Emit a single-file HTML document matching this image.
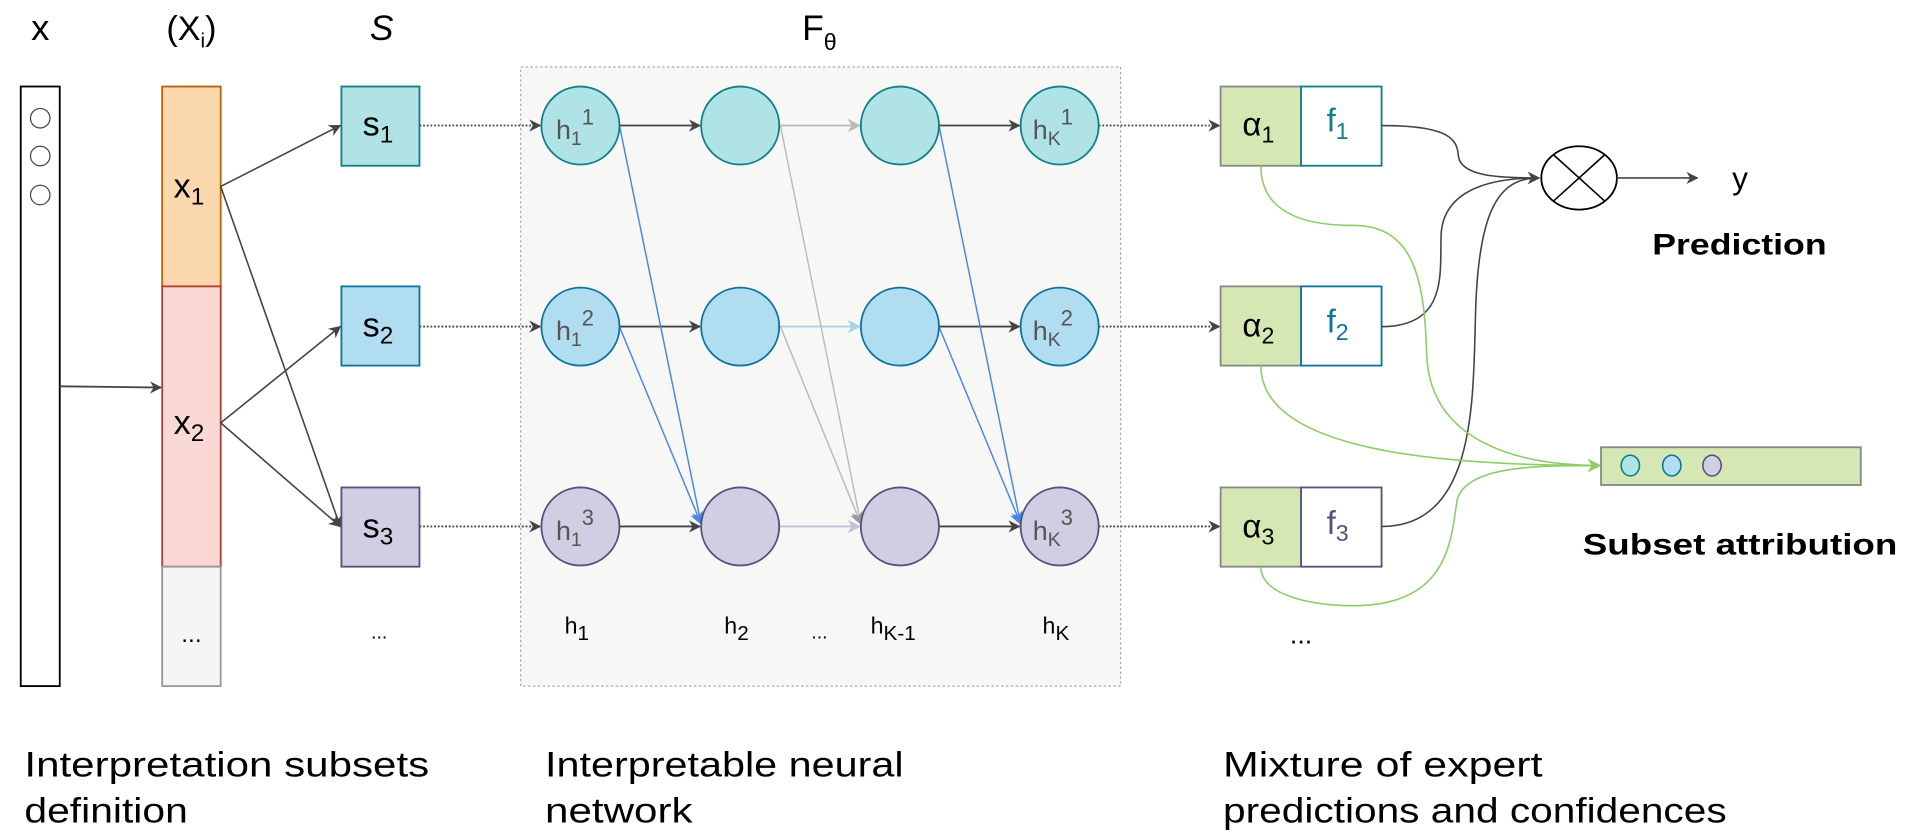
<!DOCTYPE html>
<html><head><meta charset="utf-8"><style>
html,body{margin:0;padding:0;background:#fff;width:1912px;height:836px;overflow:hidden}
svg{display:block}
text{font-family:"Liberation Sans",sans-serif}
</style></head><body>
<svg width="1912" height="836" viewBox="0 0 1568 686" preserveAspectRatio="none" xmlns="http://www.w3.org/2000/svg">
<defs>
<marker id="ad" viewBox="0 0 10 10" refX="9" refY="5" markerWidth="10" markerHeight="10" orient="auto" markerUnits="userSpaceOnUse"><path d="M0,0 L10,5 L0,10 L3,5z" fill="#444"/></marker>
<marker id="ab" viewBox="0 0 10 10" refX="9" refY="5" markerWidth="11" markerHeight="11" orient="auto" markerUnits="userSpaceOnUse"><path d="M0,0 L10,5 L0,10 L3,5z" fill="#4a86e8"/></marker>
<marker id="ag" viewBox="0 0 10 10" refX="9" refY="5" markerWidth="11" markerHeight="11" orient="auto" markerUnits="userSpaceOnUse"><path d="M0,0 L10,5 L0,10 L3,5z" fill="#999"/></marker>
<marker id="agl" viewBox="0 0 10 10" refX="9" refY="5" markerWidth="11" markerHeight="11" orient="auto" markerUnits="userSpaceOnUse"><path d="M0,0 L10,5 L0,10 L3,5z" fill="#8ccd6a"/></marker>
<marker id="al1" viewBox="0 0 10 10" refX="9" refY="5" markerWidth="11" markerHeight="11" orient="auto" markerUnits="userSpaceOnUse"><path d="M0,0 L10,5 L0,10 L3,5z" fill="#bbb"/></marker>
<marker id="al2" viewBox="0 0 10 10" refX="9" refY="5" markerWidth="11" markerHeight="11" orient="auto" markerUnits="userSpaceOnUse"><path d="M0,0 L10,5 L0,10 L3,5z" fill="#a9d2e2"/></marker>
<marker id="al3" viewBox="0 0 10 10" refX="9" refY="5" markerWidth="11" markerHeight="11" orient="auto" markerUnits="userSpaceOnUse"><path d="M0,0 L10,5 L0,10 L3,5z" fill="#c3c0dc"/></marker>
</defs>

<text x="33" y="33" font-size="30" text-anchor="middle">x</text>
<text x="157" y="33" font-size="28" text-anchor="middle">(X<tspan font-size="17" dy="6">i</tspan><tspan dy="-6">)</tspan></text>
<text x="313" y="33" font-size="29" text-anchor="middle" font-style="italic">S</text>
<text x="672" y="33" font-size="29" text-anchor="middle">F<tspan font-size="19" dy="8">θ</tspan></text>

<rect x="17" y="71" width="32" height="492" fill="#fff" stroke="#000" stroke-width="1.5"/>
<circle cx="33" cy="97" r="8" fill="#fff" stroke="#444"/>
<circle cx="33" cy="128" r="8" fill="#fff" stroke="#444"/>
<circle cx="33" cy="160" r="8" fill="#fff" stroke="#444"/>
<line x1="49" y1="317" x2="132" y2="318" stroke="#444" stroke-width="1.5" marker-end="url(#ad)"/>

<rect x="133" y="71" width="48" height="164" fill="#fad7ac" stroke="#b46504" stroke-width="1.5"/>
<rect x="133" y="235" width="48" height="230" fill="#fad9d5" stroke="#ae4132" stroke-width="1.5"/>
<rect x="133" y="465" width="48" height="98" fill="#f5f5f5" stroke="#999" stroke-width="1.5"/>
<text x="155" y="162" font-size="28" text-anchor="middle">x<tspan font-size="20" dy="6">1</tspan></text>
<text x="155" y="356" font-size="28" text-anchor="middle">x<tspan font-size="20" dy="6">2</tspan></text>
<text x="157" y="527" font-size="20" text-anchor="middle">...</text>

<line x1="181" y1="153" x2="279" y2="103" stroke="#444" stroke-width="1.3" marker-end="url(#ad)"/>
<line x1="181" y1="153" x2="279" y2="432" stroke="#444" stroke-width="1.3" marker-end="url(#ad)"/>
<line x1="181" y1="347" x2="279" y2="268" stroke="#444" stroke-width="1.3" marker-end="url(#ad)"/>
<line x1="181" y1="347" x2="279" y2="432" stroke="#444" stroke-width="1.3" marker-end="url(#ad)"/>

<rect x="280" y="71" width="64" height="65" fill="#b0e3e6" stroke="#0e8088" stroke-width="1.5"/>
<rect x="280" y="235" width="64" height="65" fill="#b1ddf0" stroke="#10739e" stroke-width="1.5"/>
<rect x="280" y="400" width="64" height="65" fill="#d0cee2" stroke="#56517e" stroke-width="1.5"/>
<text x="310" y="111" font-size="28" text-anchor="middle">s<tspan font-size="20" dy="6">1</tspan></text>
<text x="310" y="276" font-size="28" text-anchor="middle">s<tspan font-size="20" dy="6">2</tspan></text>
<text x="310" y="441" font-size="28" text-anchor="middle">s<tspan font-size="20" dy="6">3</tspan></text>
<text x="311" y="524" font-size="16" text-anchor="middle">...</text>

<rect x="427" y="55" width="492" height="508" fill="#f7f7f5" stroke="#aaa" stroke-dasharray="2,2"/>

<g stroke="#444" stroke-width="1.5" stroke-dasharray="1.5,1.5">
<line x1="344" y1="103" x2="443" y2="103" marker-end="url(#ad)"/>
<line x1="344" y1="268" x2="443" y2="268" marker-end="url(#ad)"/>
<line x1="344" y1="432" x2="443" y2="432" marker-end="url(#ad)"/>
<line x1="901" y1="103" x2="1000" y2="103" marker-end="url(#ad)"/>
<line x1="901" y1="268" x2="1000" y2="268" marker-end="url(#ad)"/>
<line x1="901" y1="432" x2="1000" y2="432" marker-end="url(#ad)"/>
</g>

<g stroke-width="1.5">
<line x1="508" y1="103" x2="574" y2="103" stroke="#444" marker-end="url(#ad)"/>
<line x1="508" y1="268" x2="574" y2="268" stroke="#444" marker-end="url(#ad)"/>
<line x1="508" y1="432" x2="574" y2="432" stroke="#444" marker-end="url(#ad)"/>
<line x1="639" y1="103" x2="705" y2="103" stroke="#bbb" marker-end="url(#al1)"/>
<line x1="639" y1="268" x2="705" y2="268" stroke="#a9d2e2" marker-end="url(#al2)"/>
<line x1="639" y1="432" x2="705" y2="432" stroke="#c3c0dc" marker-end="url(#al3)"/>
<line x1="770" y1="103" x2="836" y2="103" stroke="#444" marker-end="url(#ad)"/>
<line x1="770" y1="268" x2="836" y2="268" stroke="#444" marker-end="url(#ad)"/>
<line x1="770" y1="432" x2="836" y2="432" stroke="#444" marker-end="url(#ad)"/>
</g>
<g stroke-width="1.2">
<line x1="640" y1="103" x2="706" y2="430" stroke="#bbb" marker-end="url(#ag)"/>
<line x1="640" y1="268" x2="706" y2="430" stroke="#bbb" marker-end="url(#ag)"/>
<line x1="508" y1="103" x2="575" y2="430" stroke="#4a86e8" marker-end="url(#ab)"/>
<line x1="508" y1="268" x2="575" y2="430" stroke="#4a86e8" marker-end="url(#ab)"/>
<line x1="770" y1="103" x2="837" y2="430" stroke="#4a86e8" marker-end="url(#ab)"/>
<line x1="770" y1="268" x2="837" y2="430" stroke="#4a86e8" marker-end="url(#ab)"/>
</g>

<g stroke-width="1.5">
<g fill="#b0e3e6" stroke="#0e8088">
<ellipse cx="476" cy="103" rx="32" ry="32"/><ellipse cx="607" cy="103" rx="32" ry="32"/><ellipse cx="738" cy="103" rx="32" ry="32"/><ellipse cx="869" cy="103" rx="32" ry="32"/>
</g>
<g fill="#b1ddf0" stroke="#10739e">
<ellipse cx="476" cy="268" rx="32" ry="32"/><ellipse cx="607" cy="268" rx="32" ry="32"/><ellipse cx="738" cy="268" rx="32" ry="32"/><ellipse cx="869" cy="268" rx="32" ry="32"/>
</g>
<g fill="#d0cee2" stroke="#56517e">
<ellipse cx="476" cy="432" rx="32" ry="32"/><ellipse cx="607" cy="432" rx="32" ry="32"/><ellipse cx="738" cy="432" rx="32" ry="32"/><ellipse cx="869" cy="432" rx="32" ry="32"/>
</g>
</g>
<g fill="#555" font-size="22">
<text x="456" y="114">h<tspan font-size="16" dy="5">1</tspan><tspan font-size="18" dy="-17">1</tspan></text>
<text x="456" y="279">h<tspan font-size="16" dy="5">1</tspan><tspan font-size="18" dy="-17">2</tspan></text>
<text x="456" y="443">h<tspan font-size="16" dy="5">1</tspan><tspan font-size="18" dy="-17">3</tspan></text>
<text x="847" y="114">h<tspan font-size="16" dy="5">K</tspan><tspan font-size="18" dy="-17">1</tspan></text>
<text x="847" y="279">h<tspan font-size="16" dy="5">K</tspan><tspan font-size="18" dy="-17">2</tspan></text>
<text x="847" y="443">h<tspan font-size="16" dy="5">K</tspan><tspan font-size="18" dy="-17">3</tspan></text>
</g>
<g font-size="19">
<text x="463" y="520">h<tspan font-size="17" dy="5">1</tspan></text>
<text x="594" y="520">h<tspan font-size="17" dy="5">2</tspan></text>
<text x="672" y="524" font-size="16" text-anchor="middle">...</text>
<text x="714" y="520">h<tspan font-size="17" dy="5">K-1</tspan></text>
<text x="855" y="520">h<tspan font-size="17" dy="5">K</tspan></text>
</g>

<g stroke-width="1.5">
<rect x="1001" y="71" width="66" height="65" fill="#d5e8b4" stroke="#888"/>
<rect x="1067" y="71" width="66" height="65" fill="#fff" stroke="#0e8088"/>
<rect x="1001" y="235" width="66" height="65" fill="#d5e8b4" stroke="#888"/>
<rect x="1067" y="235" width="66" height="65" fill="#fff" stroke="#10739e"/>
<rect x="1001" y="400" width="66" height="65" fill="#d5e8b4" stroke="#888"/>
<rect x="1067" y="400" width="66" height="65" fill="#fff" stroke="#56517e"/>
</g>
<g font-size="27">
<text x="1032" y="111" text-anchor="middle">α<tspan font-size="19" dy="6">1</tspan></text>
<text x="1032" y="276" text-anchor="middle">α<tspan font-size="19" dy="6">2</tspan></text>
<text x="1032" y="441" text-anchor="middle">α<tspan font-size="19" dy="6">3</tspan></text>
<text x="1097" y="108" text-anchor="middle" fill="#0e8088">f<tspan font-size="19" dy="6">1</tspan></text>
<text x="1097" y="273" text-anchor="middle" fill="#10739e">f<tspan font-size="19" dy="6">2</tspan></text>
<text x="1097" y="438" text-anchor="middle" fill="#56517e">f<tspan font-size="19" dy="6">3</tspan></text>
</g>
<text x="1067" y="528" font-size="22" text-anchor="middle">...</text>

<g fill="none" stroke="#444" stroke-width="1.3">
<path d="M1133,103 C1190,103 1195,115 1196,128 C1198,145 1230,146 1262,146" marker-end="url(#ad)"/>
<path d="M1133,268 C1190,268 1180,220 1182,190 C1186,152 1230,146 1262,146" marker-end="url(#ad)"/>
<path d="M1133,432 C1210,432 1208,330 1210,260 C1212,170 1230,146 1262,146" marker-end="url(#ad)"/>
</g>
<g fill="none" stroke="#8ccd6a" stroke-width="1.3">
<path d="M1034,136 C1034,180 1080,185 1110,185 C1160,185 1168,230 1170,290 C1172,360 1240,382 1312,382" marker-end="url(#agl)"/>
<path d="M1034,300 C1034,370 1180,382 1312,382" marker-end="url(#agl)"/>
<path d="M1034,465 C1034,490 1080,497 1110,497 C1190,497 1190,440 1195,410 C1203,382 1260,382 1312,382" marker-end="url(#agl)"/>
</g>

<ellipse cx="1295" cy="146" rx="31" ry="26" fill="#fff" stroke="#000" stroke-width="1.5"/>
<line x1="1274" y1="127" x2="1316" y2="165" stroke="#000" stroke-width="1.3"/>
<line x1="1316" y1="127" x2="1274" y2="165" stroke="#000" stroke-width="1.3"/>
<line x1="1326" y1="146" x2="1392" y2="146" stroke="#444" stroke-width="1.3" marker-end="url(#ad)"/>
<text x="1427" y="155" font-size="26" text-anchor="middle">y</text>
<text x="1355" y="209" font-size="24" font-weight="bold" textLength="143" lengthAdjust="spacingAndGlyphs">Prediction</text>

<rect x="1313" y="367" width="213" height="31" fill="#d5e8b4" stroke="#888" stroke-width="1.5"/>
<ellipse cx="1337" cy="382" rx="7.5" ry="8.5" fill="#b0e3e6" stroke="#0e8088" stroke-width="1.3"/>
<ellipse cx="1371" cy="382" rx="7.5" ry="8.5" fill="#b1ddf0" stroke="#10739e" stroke-width="1.3"/>
<ellipse cx="1404" cy="382" rx="7.5" ry="8.5" fill="#d0cee2" stroke="#56517e" stroke-width="1.3"/>
<text x="1298" y="455" font-size="24" font-weight="bold" textLength="258" lengthAdjust="spacingAndGlyphs">Subset attribution</text>

<g font-size="29">
<text x="20" y="637" textLength="332" lengthAdjust="spacingAndGlyphs">Interpretation subsets</text>
<text x="20" y="675" textLength="134" lengthAdjust="spacingAndGlyphs">definition</text>
<text x="447" y="637" textLength="294" lengthAdjust="spacingAndGlyphs">Interpretable neural</text>
<text x="447" y="675" textLength="121" lengthAdjust="spacingAndGlyphs">network</text>
<text x="1003" y="637" textLength="262" lengthAdjust="spacingAndGlyphs">Mixture of expert</text>
<text x="1003" y="675" textLength="413" lengthAdjust="spacingAndGlyphs">predictions and confidences</text>
</g>
</svg>
</body></html>
